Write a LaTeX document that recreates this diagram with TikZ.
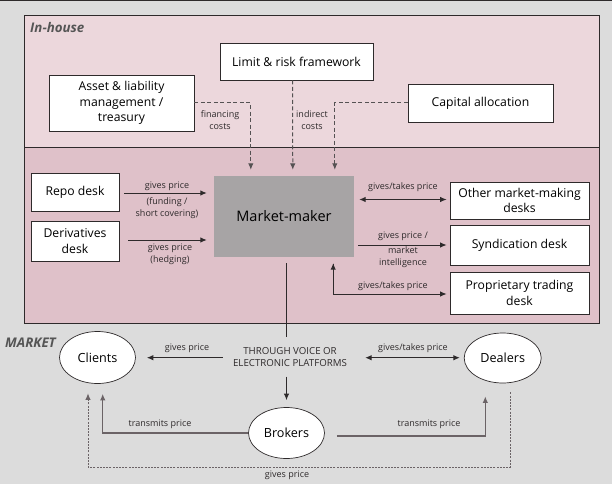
\documentclass[tikz,border=0pt]{standalone}
\usepackage{fontspec}
\setmainfont{Open Sans}
\usetikzlibrary{arrows.meta,calc,shapes.geometric}
\definecolor{bgc}{HTML}{DCDCDC}
\definecolor{pinkA}{HTML}{ECD7DC}
\definecolor{pinkB}{HTML}{DFC1C9}
\definecolor{mmgray}{HTML}{A7A4A5}
\definecolor{dk}{HTML}{2E2A2B}
\definecolor{dsh}{HTML}{555253}
\definecolor{brn}{HTML}{6B6366}
\definecolor{lbl}{HTML}{555555}
\tikzset{
  box/.style={draw=dk,line width=0.7pt,fill=white,inner sep=0pt,align=center,font=\fontsize{12.2}{15.6}\selectfont},
  ell/.style={draw=dk,line width=0.7pt,fill=white,ellipse,inner sep=0pt,font=\fontsize{12.6}{15}\selectfont},
  small/.style={font=\fontsize{9}{11.8}\selectfont,align=center,inner sep=0pt,text=dk},
  arr/.style={draw=dk,line width=1pt,-{Latex[length=6.5pt,width=5.5pt]}},
  darr/.style={draw=dk,line width=1pt,{Latex[length=6.5pt,width=5.5pt]}-{Latex[length=6.5pt,width=5.5pt]}},
  dasharr/.style={draw=dsh,line width=1pt,dash pattern=on 4pt off 2.5pt,-{Latex[length=6.5pt,width=5.5pt]}},
  brarr/.style={draw=brn,line width=1.2pt,-{Latex[length=6.5pt,width=5.5pt]}},
  brdash/.style={draw=brn,line width=1pt,dash pattern=on 2pt off 1.2pt,-{Latex[length=6.5pt,width=5.5pt]}},
  region/.style={font=\fontsize{13.3}{15}\selectfont\bfseries\itshape,text=lbl,inner sep=0pt}
}
\begin{document}
\begin{tikzpicture}[x=1pt,y=-1pt]
\useasboundingbox (0,0) rectangle (612,484);
\fill[bgc] (0,0) rectangle (612,484);
\draw[dk,line width=1.4pt] (0,0.7) -- (612,0.7);
% regions
\fill[pinkA] (24,15) rectangle (599,147);
\fill[pinkB] (24,147) rectangle (599,323);
\draw[dk,line width=0.7pt] (24,15) rectangle (599,323);
\draw[dk,line width=0.7pt] (24,147) -- (599,147);
\node[region,anchor=west] (inhouse) at (30,28) {In-house};
\node[region,anchor=west] (market) at (5,343) {MARKET};
% top boxes
\node[box,minimum width=145pt,minimum height=56pt] (asset) at (121.5,103) {Asset \& liability\\management /\\treasury};
\node[box,minimum width=153pt,minimum height=37pt] (limit) at (296.5,61.5) {Limit \& risk framework};
\node[box,minimum width=145pt,minimum height=38pt] (capital) at (480.5,103) {Capital allocation};
% market maker
\node[draw=none,fill=mmgray,minimum width=140pt,minimum height=81pt,inner sep=0pt,font=\fontsize{14.5}{17}\selectfont] (mm) at (284,216.5) {Market-maker};
% left desks
\node[box,minimum width=88pt,minimum height=38pt] (repo) at (75,192) {Repo desk};
\node[box,minimum width=88pt,minimum height=40pt] (deriv) at (75,241) {Derivatives\\desk};
% right desks
\node[box,minimum width=139pt,minimum height=37pt] (other) at (519.5,200.5) {Other market-making\\desks};
\node[box,minimum width=139pt,minimum height=40pt] (synd) at (519.5,245) {Syndication desk};
\node[box,minimum width=139pt,minimum height=42pt] (prop) at (519.5,293) {Proprietary trading\\desk};
% market
\node[ell,minimum width=76pt,minimum height=52pt] (clients) at (97.5,357.5) {Clients};
\node[ell,minimum width=77pt,minimum height=50pt] (dealers) at (502.7,358) {Dealers};
\node[ell,minimum width=76pt,minimum height=51pt] (brokers) at (286.5,433) {Brokers};
\node[small,font=\fontsize{9.7}{11.8}\selectfont,inner sep=2pt] (through) at (290,357) {THROUGH VOICE OR\\ELECTRONIC PLATFORMS};
% dashed cost arrows
\draw[dasharr,shorten >=6pt] (asset.east) -| ($(mm.north west)+(37,0)$);
\draw[dasharr,shorten >=6pt] ($(limit.south)+(-4,0)$) -- ($(mm.north west)+(79,0)$);
\draw[dasharr,shorten >=6pt] (capital.west) -| ($(mm.north west)+(121,0)$);
\node[small] (fin) at (220,120) {financing\\costs};
\node[small] (ind) at (312,120) {indirect\\costs};
% left desk arrows
\draw[arr,shorten <=5pt,shorten >=7pt] ($(repo.east)+(0,1)$) -- ($(repo.east -| mm.west)+(0,1)$);
\node[small] (l1) at (167,186) {gives price};
\node[small] (l2) at (167,208) {(funding /\\short covering)};
\draw[arr,shorten <=9pt,shorten >=7pt] ($(deriv.east)+(0,-1)$) -- ($(deriv.east -| mm.west)+(0,-1)$);
\node[small] (l3) at (170,254.5) {gives price\\(hedging)};
% right desk arrows
\draw[darr,shorten <=5pt,shorten >=3pt] ($(other.west -| mm.east)+(0,-1)$) -- ($(other.west)+(0,-1)$);
\node[small] (r1) at (403,187.5) {gives/takes price};
\draw[arr,shorten <=4pt,shorten >=3pt] (synd.west -| mm.east) -- (synd.west);
\node[small] (r2) at (403,236) {gives price /};
\node[small] (r3) at (403,257) {market\\intelligence};
\draw[arr,shorten >=3pt] ($(mm.south east)+(-21,6.5)$) |- ($(prop.west)+(0,1)$);
\draw[arr] ($(mm.south east)+(-21,10)$) -- ($(mm.south east)+(-21,6)$);
\node[small] (r4) at (393,286.5) {gives/takes price};
% market maker to platforms
\draw[dk,line width=1pt,shorten >=8pt] ($(mm.south)+(2,6)$) -- ($(through.north)+(-4,0)$);
\draw[arr,shorten <=8pt,shorten >=7pt] (through.south -| brokers.north) -- (brokers.north);
\draw[arr,shorten <=8pt,shorten >=11pt] ($(through.west)+(0,0.7)$) -- ($(clients.east)+(0,0.2)$);
\node[small] (m1) at (187,348.5) {gives price};
\draw[darr,shorten <=16pt,shorten >=4pt] ($(through.east)+(0,0.7)$) -- ($(dealers.west)+(0,-0.3)$);
\node[small] (m2) at (413,348.5) {gives/takes price};
% brokers transmit
\draw[brarr] (brokers.west) -| ($(clients.south)+(5.2,10)$);
\node[small] (t1) at (160,424) {transmits price};
\draw[brarr,shorten <=12pt] ($(brokers.east)+(0,3)$) -| ($(dealers.south)+(-17.4,13)$);
\node[small] (t2) at (429,424) {transmits price};
% dealers give price to clients
\draw[brdash] ($(dealers.south)+(7.3,9)$) -- ($(dealers.south)+(7.3,84)$) -| ($(clients.south)+(-9.5,9.5)$);
\node[small] (b1) at (287,475.5) {gives price};
\end{tikzpicture}
\end{document}
